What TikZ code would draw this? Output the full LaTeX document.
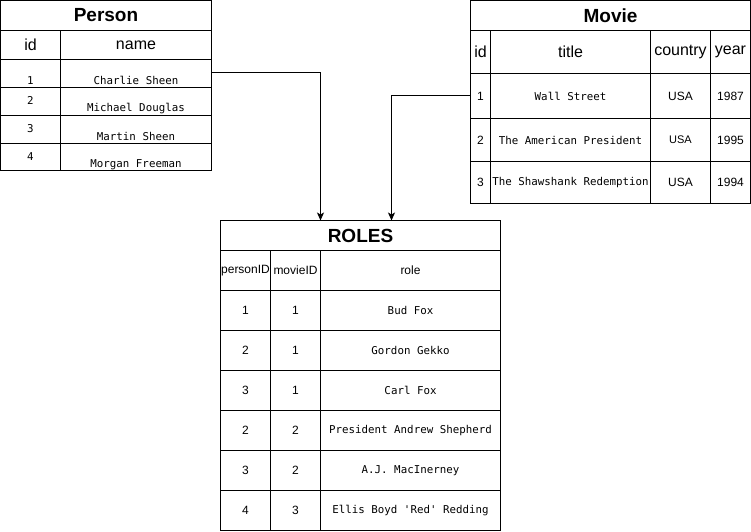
\documentclass[tikz,border=0pt]{standalone}
\usepackage{fontspec}
\setmainfont{Liberation Sans}
\setmonofont{DejaVu Sans Mono}
\usetikzlibrary{arrows.meta}
\tikzset{
	cell/.style={draw, line width=1pt, inner sep=0pt, outer sep=0pt, anchor=north west},
	tabtitle/.style={cell, font=\fontsize{19}{19}\selectfont\bfseries},
	colhead/.style={cell, font=\fontsize{16}{16}\selectfont},
	numcell/.style={cell, font=\fontsize{12}{12}\selectfont},
	codecell/.style={cell, font=\fontsize{10.8}{10.8}\selectfont\ttfamily},
	codetext/.style={inner sep=0pt, font=\fontsize{10.8}{10.8}\selectfont\ttfamily},
	link/.style={line width=1pt, -{Stealth[length=8pt,width=7pt,inset=2pt]}}
}

\begin{document}
\begin{tikzpicture}[x=1pt, y=-1pt]
		%%%%% START %%%%%
		\useasboundingbox (-0.5, -0.5) rectangle (750.5, 530.5);
		
		% Person
		\node[tabtitle, minimum width=211pt, minimum height=30pt] (ptitle) at (0, 0) {Person};
		\node[colhead, minimum width=60pt, minimum height=29pt] (phid) at (0, 30) {id};
		\node[colhead, minimum width=151pt, minimum height=29pt] (phname) at (60, 30) {name};
		
		\node[cell, minimum width=60pt, minimum height=28pt] (pid1) at (0, 59) {};
		\node[cell, minimum width=151pt, minimum height=28pt] (pname1) at (60, 59) {};
		\node[cell, minimum width=60pt, minimum height=28pt] (pid2) at (0, 87) {};
		\node[cell, minimum width=151pt, minimum height=28pt] (pname2) at (60, 87) {};
		\node[cell, minimum width=60pt, minimum height=28pt] (pid3) at (0, 115) {};
		\node[cell, minimum width=151pt, minimum height=28pt] (pname3) at (60, 115) {};
		\node[cell, minimum width=60pt, minimum height=27pt] (pid4) at (0, 143) {};
		\node[cell, minimum width=151pt, minimum height=27pt] (pname4) at (60, 143) {};
		
		\node[codetext] (pidtext1) at (30, 80) {1};
		\node[codetext] (pnametext1) at (135.5, 80) {Charlie Sheen};
		\node[codetext] (pidtext2) at (30, 100) {2};
		\node[codetext] (pnametext2) at (135.5, 108) {Michael Douglas};
		\node[codetext] (pidtext3) at (30, 128) {3};
		\node[codetext] (pnametext3) at (135.5, 136) {Martin Sheen};
		\node[codetext] (pidtext4) at (30, 156) {4};
		\node[codetext] (pnametext4) at (135.5, 164) {Morgan Freeman};
		
		% Movie
		\node[tabtitle, minimum width=280pt, minimum height=30pt] (mtitle) at (470, 0) {Movie};
		\node[colhead, minimum width=20pt, minimum height=43pt] (mhid) at (470, 30) {id};
		\node[colhead, minimum width=160pt, minimum height=43pt] (mhtitle) at (490, 30) {title};
		\node[colhead, minimum width=60pt, minimum height=43pt] (mhcountry) at (650, 30) {country};
		\node[colhead, minimum width=40pt, minimum height=43pt] (mhyear) at (710, 30) {year};
		
		\node[numcell, minimum width=20pt, minimum height=45pt] (mid1) at (470, 73) {1};
		\node[codecell, minimum width=160pt, minimum height=45pt] (mname1) at (490, 73) {Wall Street};
		\node[numcell, minimum width=60pt, minimum height=45pt] (mcountry1) at (650, 73) {USA};
		\node[numcell, minimum width=40pt, minimum height=45pt] (myear1) at (710, 73) {1987};
		
		\node[numcell, minimum width=20pt, minimum height=43pt] (mid2) at (470, 118) {2};
		\node[codecell, minimum width=160pt, minimum height=43pt] (mname2) at (490, 118) {The American President};
		\node[numcell, minimum width=60pt, minimum height=43pt, font=\fontsize{11}{11}\selectfont] (mcountry2) at (650, 118) {USA};
		\node[numcell, minimum width=40pt, minimum height=43pt] (myear2) at (710, 118) {1995};
		
		\node[numcell, minimum width=20pt, minimum height=42pt] (mid3) at (470, 161) {3};
		\node[codecell, minimum width=160pt, minimum height=42pt] (mname3) at (490, 161) {The Shawshank Redemption};
		\node[numcell, minimum width=60pt, minimum height=42pt] (mcountry3) at (650, 161) {USA};
		\node[numcell, minimum width=40pt, minimum height=42pt] (myear3) at (710, 161) {1994};
		
		% ROLES
		\node[tabtitle, minimum width=280pt, minimum height=30pt] (rtitle) at (220, 220) {ROLES};
		\node[numcell, minimum width=50pt, minimum height=40pt] (rhperson) at (220, 250) {personID};
		\node[numcell, minimum width=50pt, minimum height=40pt] (rhmovie) at (270, 250) {movieID};
		\node[numcell, minimum width=180pt, minimum height=40pt] (rhrole) at (320, 250) {role};
		
		\node[numcell, minimum width=50pt, minimum height=40pt] (rperson1) at (220, 290) {1};
		\node[numcell, minimum width=50pt, minimum height=40pt] (rmovie1) at (270, 290) {1};
		\node[codecell, minimum width=180pt, minimum height=40pt] (rrole1) at (320, 290) {Bud Fox};
		
		\node[numcell, minimum width=50pt, minimum height=40pt] (rperson2) at (220, 330) {2};
		\node[numcell, minimum width=50pt, minimum height=40pt] (rmovie2) at (270, 330) {1};
		\node[codecell, minimum width=180pt, minimum height=40pt] (rrole2) at (320, 330) {Gordon Gekko};
		
		\node[numcell, minimum width=50pt, minimum height=40pt] (rperson3) at (220, 370) {3};
		\node[numcell, minimum width=50pt, minimum height=40pt] (rmovie3) at (270, 370) {1};
		\node[codecell, minimum width=180pt, minimum height=40pt] (rrole3) at (320, 370) {Carl Fox};
		
		\node[numcell, minimum width=50pt, minimum height=40pt] (rperson4) at (220, 410) {2};
		\node[numcell, minimum width=50pt, minimum height=40pt] (rmovie4) at (270, 410) {2};
		\node[codecell, minimum width=180pt, minimum height=40pt] (rrole4) at (320, 410) {President Andrew Shepherd};
		
		\node[numcell, minimum width=50pt, minimum height=40pt] (rperson5) at (220, 450) {3};
		\node[numcell, minimum width=50pt, minimum height=40pt] (rmovie5) at (270, 450) {2};
		\node[codecell, minimum width=180pt, minimum height=40pt] (rrole5) at (320, 450) {A.J. MacInerney};
		
		\node[numcell, minimum width=50pt, minimum height=40pt] (rperson6) at (220, 490) {4};
		\node[numcell, minimum width=50pt, minimum height=40pt] (rmovie6) at (270, 490) {3};
		\node[codecell, minimum width=180pt, minimum height=40pt] (rrole6) at (320, 490) {Ellis Boyd 'Red' Redding};
		
		% links
		\draw[link] ([yshift=1.5pt]pname1.east) -| ([xshift=-40pt]rtitle.north);
		\draw[link] ([yshift=0.5pt]mid1.west) -| ([xshift=31pt]rtitle.north);
		%%%%% END %%%%%
\end{tikzpicture}
\end{document}
